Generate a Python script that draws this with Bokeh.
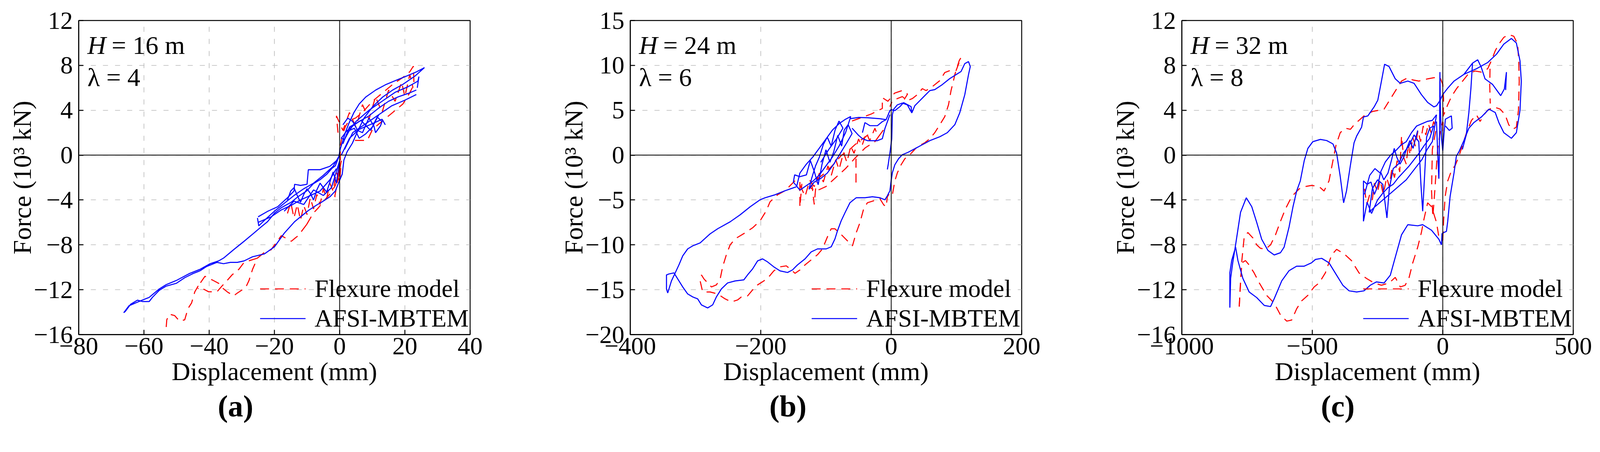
from bokeh.plotting import figure
from bokeh.layouts import row
from bokeh.models import Range1d, FixedTicker, Span, Label, Title, CustomJSTickFormatter
from bokeh.embed import file_html
from bokeh.resources import INLINE

FONT = "Liberation Serif"
BLUE = "#0000ff"
RED = "#ff0000"

# ---------------- panel (a): H = 16 m ----------------
a_x_range = (-80, 40)
a_y_range = (-16, 12)
a_x_ticks = [-80, -60, -40, -20, 0, 20, 40]
a_y_ticks = [-16, -12, -8, -4, 0, 4, 8, 12]

a_flex_r1 = [(-10.1, -6.18), (-12.7, -7.18), (-13.8, -7.43), (-14.8, -7.68), (-17.9, -7.18), (-21.0, -8.43),
             (-23.1, -8.68), (-25.2, -9.18), (-26.7, -10.18), (-27.8, -11.18), (-28.8, -11.8), (-31.4, -12.3),
             (-32.5, -12.55), (-34.5, -12.18), (-36.1, -11.8), (-37.1, -11.43), (-38.7, -11.18), (-41.3, -10.8),
             (-42.8, -11.43), (-43.4, -11.93)]
a_flex_r2 = [(-25.2, -9.18), (-29.3, -9.56), (-30.9, -10.18), (-33.0, -10.68), (-34.5, -11.18), (-36.1, -11.68),
             (-37.6, -12.18), (-40.2, -12.18), (-41.8, -11.93), (-43.4, -11.68), (-44.4, -12.18), (-45.4, -13.18),
             (-46.5, -13.68), (-47.5, -14.68), (-49.1, -14.8), (-50.6, -14.3), (-52.2, -14.18), (-53.0, -14.68),
             (-53.2, -15.43)]
a_flex_r3 = [(-10.1, -6.18), (-8.1, -5.18), (-6.5, -4.69), (-4.4, -3.94), (-2.9, -3.44), (-1.3, -2.69),
             (-0.3, -1.69), (0.2, -0.69), (0.2, 0.81), (0.8, 1.81), (1.8, 2.56), (2.8, 3.06), (4.9, 3.31),
             (7.0, 3.81), (10.1, 4.81), (13.2, 5.56), (16.3, 6.31), (19.4, 6.93), (21.5, 7.43), (22.6, 7.93),
             (22.8, 6.31), (21.5, 5.56), (19.4, 4.56), (16.3, 3.81), (13.2, 3.06), (10.1, 2.31), (8.5, 1.31),
             (6.0, 1.31), (2.8, 1.31)]
a_flex_left = [(-16, -5.2), (-15, -4.2), (-14, -5.6), (-13, -4.4), (-12, -5.8), (-11, -4.5), (-10, -5.3),
               (-9, -3.8), (-8, -4.8), (-7, -3.5), (-6, -4.4), (-5, -3.0), (-4, -3.9), (-3, -2.5), (-2, -3.2),
               (-1, -1.5), (0, -2.4), (0.5, -0.5), (-1.5, -3.7), (-0.2, -3.7)]
a_flex_right = [(-0.5, 2.0), (-1.0, 3.5), (1, 2.2), (3, 3.8), (5, 2.5), (7, 4.5), (9, 3.2), (11, 5.2), (13, 3.8),
                (15, 5.8), (17, 4.8), (19, 6.5), (20, 5.2), (21.5, 7.2), (22.5, 6.0)]

a_afsi_outer = [(26.0, 7.8), (23.1, 7.05), (19.4, 6.31), (16.3, 5.81), (13.2, 5.18), (10.1, 4.31), (7.5, 3.31),
                (5.4, 2.06), (3.9, 1.06), (2.3, 0.31), (1.3, -0.44), (0.8, -1.69), (-0.3, -2.44), (-1.3, -3.19),
                (-2.9, -3.69), (-5.5, -4.19), (-7.0, -4.44), (-9.6, -4.94), (-13.8, -5.93), (-16.9, -6.93),
                (-20.0, -8.18), (-23.1, -8.81), (-26.7, -9.06), (-29.3, -9.43), (-31.4, -9.56), (-33.5, -9.56),
                (-35.6, -9.68), (-37.6, -9.56), (-40.8, -9.93), (-42.8, -10.31), (-44.9, -10.55), (-47.5, -10.93),
                (-50.1, -11.43), (-53.2, -11.68), (-55.3, -12.05), (-57.4, -12.68), (-58.4, -13.05),
                (-60.5, -13.05), (-62.0, -12.93), (-64.1, -13.3), (-65.7, -13.93), (-66.2, -14.05),
                (-64.6, -13.43), (-62.6, -13.18), (-60.5, -12.93), (-58.4, -12.68), (-55.3, -11.93),
                (-53.2, -11.55), (-50.1, -11.18), (-46.0, -10.55), (-42.8, -10.18), (-39.7, -9.68),
                (-37.1, -9.43), (-35.6, -9.18), (-32.5, -8.43), (-29.3, -7.68), (-26.2, -6.93), (-24.2, -6.43),
                (-22.1, -5.93), (-20.0, -5.18), (-17.9, -4.69), (-14.8, -4.19), (-12.7, -3.69), (-10.1, -3.19),
                (-8.1, -2.56), (-6.0, -2.19), (-3.9, -1.69), (-2.4, -1.19), (-1.3, -0.94), (-0.3, -0.19),
                (0.2, 0.56), (1.0, 1.31), (1.8, 2.06), (2.8, 2.81), (4.4, 3.81), (6.0, 4.56), (8.0, 5.18),
                (11.1, 5.81), (14.3, 6.31), (17.4, 6.68), (20.5, 7.05), (23.6, 7.43), (26.0, 7.8)]
a_afsi_l1 = [(1.0, 1.0), (3, 2.5), (6, 3.0), (9, 3.5), (12, 4.2), (15, 4.8), (18, 5.2), (21, 5.5), (23.5, 5.8)]
a_afsi_l2 = [(1.5, 0.5), (4, 2.0), (8, 2.8), (12, 3.6), (16, 4.4), (20, 4.9), (23.5, 5.4)]
a_afsi_l3 = [(2, 1.8), (5, 3.0), (9, 4.0), (13, 4.8), (17, 5.6), (21, 6.1), (24, 6.6), (24.3, 7.0), (23.8, 6.0)]
a_afsi_l4 = [(0.5, 0.0), (3, 1.5), (6, 2.3), (10, 2.8), (13, 3.2), (14, 2.7)]
a_afsi_core = [(1, 2.7), (2.5, 3.3), (4, 3.0), (5.5, 2.2), (7, 2.0), (8.5, 3.0), (9, 3.3), (10.5, 2.6),
               (11, 2.0), (12.5, 2.6), (13, 3.0), (11.5, 3.4), (10, 2.5), (8, 1.9), (6, 1.5), (4.5, 2.4),
               (3, 2.2), (1.5, 1.4), (0.5, 1.5), (2, 2.1), (4, 2.6), (6.5, 3.1), (9.5, 2.2), (12, 3.6)]
a_afsi_n1 = [(-25.2, -5.6), (-24.8, -6.3), (-23, -5.8), (-20, -5.0), (-17, -4.3), (-14, -3.6), (-11, -3.0),
             (-8, -2.5), (-5, -1.8), (-2, -1.0), (0, 0.0)]
a_afsi_n2 = [(-25, -5.5), (-22, -5.0), (-19, -4.6), (-16, -3.8), (-14, -3.2), (-13.8, -2.6), (-12, -2.7),
             (-10, -2.6), (-9.6, -1.3), (-6, -1.3), (-3, -1.0), (-1, -0.5)]
a_afsi_n3 = [(-25, -6.0), (-21, -5.5), (-18, -4.9), (-15, -4.5), (-12, -4.0), (-9, -3.6), (-6, -3.2),
             (-3, -2.2), (-1, -1.2)]
a_afsi_left = [(-16, -4.0), (-15, -3.2), (-14, -2.9), (-13, -3.6), (-12, -4.2), (-11, -3.5), (-10, -3.0),
               (-9, -3.4), (-8, -4.0), (-7, -3.1), (-6, -2.5), (-5, -2.9), (-4, -3.3), (-3, -2.4), (-2, -1.5),
               (-1.5, -2.0), (-1, -2.5), (0, -0.5), (-2.5, -2.9), (-5, -3.6), (-8, -3.1), (-11, -4.4),
               (-14, -4.1), (-17, -5.0)]

# ---------------- panel (b): H = 24 m ----------------
b_x_range = (-400, 200)
b_y_range = (-20, 15)
b_x_ticks = [-400, -200, 0, 200]
b_y_ticks = [-20, -15, -10, -5, 0, 5, 10, 15]

b_flex_main = [(-147.5, -2.86), (-162.8, -3.97), (-174.2, -4.42), (-185.7, -5.2), (-191.5, -6.2), (-201, -7.32),
               (-212.5, -8.1), (-224, -8.66), (-239.3, -9.33), (-246.9, -10.0), (-252.7, -11.1),
               (-258.4, -12.45), (-262.2, -13.79), (-268, -14.46), (-275.6, -14.69), (-281.4, -14.24),
               (-287.1, -13.79), (-290.9, -13.35), (-292.9, -14.02), (-289, -15.25), (-277.6, -15.25),
               (-266.1, -15.47), (-254.6, -16.02), (-245, -16.36), (-235.5, -16.14), (-229.7, -15.8),
               (-220.2, -15.69), (-212.5, -15.02), (-204.8, -14.46), (-195.3, -14.02), (-187.6, -13.57),
               (-180, -12.9), (-170.4, -12.45), (-160.8, -12.34), (-153.2, -12.79), (-147.5, -13.17),
               (-139.8, -12.79), (-132.1, -12.23), (-122.6, -11.67), (-113, -11.1), (-105.4, -10.45),
               (-97.7, -9.1), (-92, -8.21), (-86.2, -8.21), (-74.7, -8.99), (-67.1, -9.55), (-59.4, -10.11),
               (-53.7, -8.66), (-48, -7.54), (-42.2, -5.98), (-36.5, -5.31), (-26.9, -5.09), (-17.3, -4.86),
               (-11.6, -5.53), (-7.8, -5.76), (-5.9, -4.64), (-2, -4.2), (1.8, -4.42), (5.6, -2.86),
               (9.5, -1.96), (15.2, -1.07), (20.9, -0.4), (28.6, 0.05), (40, 0.94), (51.5, 1.38), (59.2, 1.83),
               (66.8, 2.5), (74.5, 3.39), (82.1, 4.29), (87.9, 5.63), (91.7, 7.19), (95.5, 8.3), (97.5, 8.97),
               (101.3, 9.87), (104.3, 10.54), (107, 10.87), (99.4, 9.42), (89.8, 9.42), (82.1, 9.2),
               (74.5, 8.3), (63, 7.63), (53.4, 7.19), (47.7, 7.41), (40, 6.74), (32.4, 6.3), (24.7, 6.07),
               (17.1, 6.52), (9.5, 6.3), (1.8, 6.07), (-2, 5.4)]
b_flex_cluster = [(-140, -3.3), (-132, -4.6), (-125, -2.8), (-118, -3.5), (-110, -2.0), (-104, -3.0),
                  (-97, -1.2), (-92, -2.3), (-85, -0.5), (-80, -1.6), (-73, 0.3), (-68, -0.8), (-62, 1.0),
                  (-57, 0.2), (-50, 1.8), (-45, 1.0), (-38, 2.5), (-33, 1.6), (-25, 3.0), (-20, 2.0), (-12, 2.8),
                  (-25, 1.5), (-40, 0.8), (-55, -0.3), (-70, -1.5), (-85, -2.5), (-100, -3.5), (-115, -4.0),
                  (-125, -3.6), (-112, -2.6), (-100, -1.9), (-88, -1.0), (-76, 0.0), (-64, 0.6), (-52, 1.4),
                  (-40, 2.0), (-30, 2.6)]
b_flex_dip1 = [(-140, -3.0), (-140, -5.8), (-137, -3.2)]
b_flex_dip2 = [(-122, -3.0), (-118, -5.5), (-115, -3.0)]
b_flex_dip3 = [(-54, -0.4), (-54, -3.3)]
b_flex_top = [(-60, 3.8), (-45, 4.2), (-30, 4.6), (-13.6, 5.2), (-13.6, 6.4), (-5, 6.0), (5, 6.9), (17, 7.2),
              (25, 6.8), (20, 6.2)]

b_afsi_main = [(-145.5, -3.53), (-162.8, -3.97), (-178.1, -4.42), (-193.4, -4.75), (-201, -4.98),
               (-216.3, -5.76), (-231.6, -6.65), (-246.9, -7.43), (-266.1, -8.21), (-277.6, -8.77),
               (-292.9, -9.78), (-304.3, -10.11), (-312, -10.45), (-319.6, -11.23), (-325.4, -12.23),
               (-331.1, -13.12), (-336.9, -14.02), (-342.6, -15.36), (-344.5, -14.91), (-344.5, -13.35),
               (-340.7, -13.24), (-333, -13.12), (-327.3, -13.79), (-319.6, -14.69), (-312, -15.47),
               (-304.3, -15.8), (-296.7, -16.02), (-290.9, -16.69), (-281.4, -17.03), (-273.7, -16.69),
               (-268, -15.8), (-260.3, -14.91), (-250.8, -14.24), (-239.3, -14.02), (-225.9, -13.9),
               (-220.2, -13.35), (-212.5, -12.68), (-204.8, -11.78), (-197.2, -11.56), (-189.5, -11.9),
               (-180, -12.45), (-170.4, -12.9), (-158.9, -13.08), (-151.3, -12.79), (-143.6, -12.23),
               (-132.1, -11.56), (-122.6, -10.78), (-113, -10.45), (-99.6, -10.45), (-92, -10.22),
               (-86.2, -9.33), (-82.4, -8.44), (-76.7, -7.32), (-70.9, -6.43), (-63.3, -5.31), (-53.7, -4.75),
               (-40.3, -4.75), (-28.8, -4.64), (-17.3, -4.75), (-9.7, -4.98), (-5.9, -4.53), (-2.0, -3.97),
               (-0.1, -2.86), (1.8, -1.96), (5.6, -1.07), (11.3, -0.4), (17.1, 0.05), (24.7, 0.27),
               (36.2, 0.71), (47.7, 1.16), (59.2, 1.61), (74.5, 2.05), (86, 2.5), (97.5, 3.39), (105.1, 4.73),
               (112.8, 6.74), (118.5, 8.97), (121.2, 9.87), (118.5, 10.42), (112.8, 10.2), (107, 9.31),
               (99.4, 8.97), (89.8, 8.53), (78.3, 7.86), (66.8, 7.3), (59.2, 7.19), (51.5, 6.63), (43.9, 6.07),
               (36.2, 5.51), (31.6, 4.7), (30.5, 5.4), (24.7, 5.63), (19, 5.85), (13.3, 5.4), (5.6, 4.96),
               (-0.1, 5.07)]
b_afsi_cluster = [(-145, -3.5), (-140, -2.0), (-130, -1.0), (-120, -0.2), (-110, 0.8), (-100, 1.8), (-90, 2.8),
                  (-80, 3.5), (-70, 4.0), (-62, 4.3), (-70, 2.5), (-80, 1.0), (-90, -0.2), (-100, -1.2),
                  (-110, -2.2), (-120, -2.9), (-130, -3.4), (-140, -3.9), (-150, -3.0), (-148, -2.2),
                  (-140, -2.4), (-130, -2.2), (-124, -0.6), (-118, -1.8), (-112, -3.3), (-106, -1.0),
                  (-100, 0.6), (-94, -0.8), (-88, 0.4), (-82, 2.2), (-76, 1.0), (-72, 2.8), (-66, 3.4),
                  (-60, 2.4), (-68, 1.4), (-78, 0.2), (-88, -1.0), (-98, -2.0), (-108, -2.6), (-118, -3.0),
                  (-126, -3.8), (-122, -2.6), (-116, -1.2), (-110, -0.2), (-104, 1.2), (-98, 2.0), (-92, 1.0),
                  (-86, 2.8), (-80, 3.8), (-74, 3.0), (-84, 1.8), (-96, 0.6), (-108, -0.8)]
b_afsi_zero = [(-5.9, -1.6), (-4.5, -1.0), (-1.5, 0.5), (0.8, 1.8), (1.8, 4.5), (3.7, 5.1), (9.4, 5.6),
               (17.1, 5.8), (24.7, 5.6), (31.6, 4.7)]
b_afsi_up1 = [(-63.3, 4.06), (-50, 4.2), (-36.5, 4.17), (-17.3, 4.06), (-7.8, 3.95), (-2.0, 4.96), (-0.1, 5.07)]
b_afsi_up2 = [(-44.1, 2.5), (-40.3, 3.62), (-32.7, 3.28), (-21.2, 3.28), (-13.6, 3.73), (-7.8, 3.95)]
b_afsi_up3 = [(-60, 3.0), (-50, 2.2), (-44.1, 1.83), (-36.5, 1.61), (-21.2, 1.61), (-13.6, 1.83), (-9.7, 2.95),
              (-2.0, 4.51)]

# ---------------- panel (c): H = 32 m ----------------
c_x_range = (-1000, 500)
c_y_range = (-16, 12)
c_x_ticks = [-1000, -500, 0, 500]
c_y_ticks = [-16, -12, -8, -4, 0, 4, 8, 12]

c_flex_upper = [(-780, -13.5), (-770, -9.4), (-761, -7.3), (-747, -6.9), (-727, -7.4), (-713, -8.0),
                (-699, -8.3), (-680, -8.4), (-660, -8.0), (-641, -7.1), (-622, -5.9), (-603, -4.8),
                (-579, -3.7), (-550, -3.0), (-526, -2.8), (-503, -2.7), (-474, -2.8), (-455, -3.2),
                (-436, -2.3), (-421, -0.5), (-409, 0.9), (-393, 2.0), (-373, 2.4), (-354, 2.3), (-340, 2.7),
                (-321, 3.1), (-297, 3.6), (-268, 3.9), (-244, 4.0), (-225, 4.1), (-201, 5.0), (-177, 5.9),
                (-158, 6.6), (-134, 6.9), (-115, 6.7), (-91, 6.6), (-58, 6.8), (-34, 6.9), (-10, 6.9),
                (0, 6.3), (3, 5.0), (2, 3.5), (0, 2.0)]
c_flex_lower = [(-780, -13.5), (-775, -11.2), (-770, -9.6), (-756, -9.4), (-742, -9.8), (-723, -10.5),
                (-703, -11.4), (-675, -12.5), (-646, -13.2), (-622, -14.25), (-598, -14.8), (-579, -14.7),
                (-560, -13.7), (-541, -13.0), (-517, -12.5), (-493, -11.75), (-474, -11.4), (-450, -10.5),
                (-426, -8.9), (-407, -8.4), (-378, -8.8), (-350, -9.4), (-321, -10.5), (-292, -11.0),
                (-263, -11.4), (-235, -11.6), (-206, -11.4), (-182, -10.9), (-163, -11.75), (-144, -11.6),
                (-129, -10.9), (-115, -9.6), (-96, -8.2), (-82, -6.9), (-72, -5.7), (-58, -4.25), (-43, -4.6),
                (-24, -6.0), (-15, -7.3), (-5, -7.6), (0, -7.6)]
c_flex_right = [(0, -7.6), (3, -5.9), (9, -3.7), (19, -2.3), (33, -1.4), (48, -0.9), (62, -0.1), (76, 0.9),
                (91, 2.0), (110, 3.1), (129, 3.6), (143, 3.0), (158, 3.6), (172, 4.0), (196, 4.3), (220, 4.1),
                (239, 3.6), (253, 2.7), (268, 2.3), (282, 2.5), (290, 4.0), (293, 6.6), (291, 8.4), (287, 9.9),
                (272, 10.6), (253, 10.75), (234, 10.5), (215, 9.9), (201, 9.3), (186, 8.4), (172, 7.7),
                (148, 7.4), (124, 7.5), (100, 7.3), (76, 6.6), (52, 5.9), (33, 5.2), (19, 4.5), (4, 3.6)]
c_flex_drop = [(181, 7.7), (180, 6.2), (182, 4.6)]
c_flex_cluster = [(-300, -3.0), (-292, -4.3), (-287, -4.1), (-280, -3.5), (-270, -4.0), (-262, -2.5),
                  (-250, -3.3), (-240, -2.2), (-228, -3.5), (-215, -2.0), (-205, -2.8), (-195, -1.2),
                  (-185, -2.0), (-175, -0.5), (-165, -1.5), (-158, 1.7), (-150, -0.2), (-140, -0.8),
                  (-132, 1.0), (-125, 0.0), (-115, 1.6), (-105, 0.8), (-95, 2.2), (-85, 1.2), (-75, 2.6),
                  (-65, 1.8), (-55, 2.8), (-45, 2.0), (-35, 3.0), (-25, 2.4), (-40, 0.5), (-43, -3.2),
                  (-38, -5.5), (-30, -3.0), (-20, 0.5), (-10, 2.0), (0, 3.0)]

c_afsi_main = [(-5, -8.0), (-15, -7.5), (-43, -6.7), (-77, -6.2), (-96, -6.3), (-134, -6.2), (-158, -7.1),
               (-182, -9.1), (-201, -10.7), (-225, -11.4), (-254, -11.3), (-278, -11.6), (-302, -12.1),
               (-330, -12.2), (-359, -12.1), (-383, -11.6), (-407, -10.7), (-436, -9.6), (-464, -9.2),
               (-488, -9.3), (-503, -9.6), (-531, -9.9), (-560, -9.9), (-589, -10.3), (-617, -11.2),
               (-646, -12.8), (-660, -13.5), (-684, -13.4), (-713, -12.7), (-742, -12.2), (-766, -11.0),
               (-785, -9.4), (-794, -8.2), (-809, -9.4), (-816, -10.5), (-816, -13.6), (-813, -11.0),
               (-805, -9.6), (-794, -8.0), (-775, -5.1), (-753, -3.8), (-732, -4.6), (-713, -6.0),
               (-694, -7.5), (-670, -8.5), (-646, -8.9), (-622, -8.7), (-608, -8.2), (-589, -6.4),
               (-574, -4.6), (-560, -3.2), (-546, -2.3), (-531, -0.5), (-517, 0.6), (-498, 1.2), (-469, 1.4),
               (-445, 1.3), (-421, 1.0), (-407, 0.2), (-393, -1.9), (-380, -4.25), (-369, -3.2), (-354, -0.9),
               (-340, 1.1), (-330, 1.7), (-311, 2.5), (-304, 3.4), (-287, 3.5), (-263, 4.3), (-249, 4.9),
               (-235, 6.6), (-223, 8.1), (-206, 7.9), (-182, 6.8), (-163, 6.4), (-134, 6.6), (-110, 6.4),
               (-82, 5.4), (-58, 4.7), (-34, 4.3), (-24, 4.4), (-10, 4.9), (0, 5.4), (20, 6.0), (43, 6.6),
               (81, 7.2), (114, 8.2), (134, 8.5), (148, 7.8), (162, 6.8), (191, 6.3), (222, 5.3), (236, 5.9),
               (244, 7.4), (241, 5.8)]
c_afsi_right = [(-5, -8.0), (-3, -7.0), (4, -6.9), (14, -6.8), (19, -5.9), (28, -3.7), (43, -1.6), (52, -0.1),
                (62, 0.3), (81, 1.3), (100, 2.4), (119, 2.9), (148, 3.4), (177, 4.1), (201, 3.8), (215, 2.9),
                (234, 2.0), (263, 1.5), (282, 2.0), (296, 4.0), (301, 6.6), (296, 8.4), (282, 10.0),
                (263, 10.4), (234, 9.9), (206, 9.0), (172, 8.25), (129, 7.7), (81, 7.2)]
c_afsi_v = [(114, 8.2), (108, 6.0), (100, 3.8), (90, 1.8), (75, 0.5)]
c_afsi_spike = [(-24, 3.0), (-20, 0.5), (-15, -2.1), (-14, -1.0), (-12, 3.0), (-11, 7.4), (-9, 4.0), (-5, 1.5),
                (0, 0.4), (5, 2.0), (10, 3.2), (33, 3.5), (36, 2.4), (25, 2.2), (10, 2.6)]
c_afsi_cluster = [(-300, -3.5), (-280, -1.8), (-260, -1.2), (-240, -1.6), (-220, -0.6), (-200, 0.0),
                  (-180, 0.4), (-160, 0.9), (-140, 1.2), (-120, 2.0), (-100, 2.6), (-80, 2.8), (-60, 3.0),
                  (-40, 3.1), (-24, 3.6), (-40, 1.2), (-60, 0.5), (-80, -0.4), (-100, -1.0), (-120, -1.6),
                  (-140, -2.2), (-160, -2.6), (-180, -3.0), (-200, -3.4), (-220, -3.8), (-240, -4.2),
                  (-260, -4.6), (-282, -5.1), (-270, -3.0), (-250, -2.2), (-230, -2.6), (-214, -5.6),
                  (-205, -3.0), (-190, -1.2), (-170, -0.8), (-150, 0.2), (-130, 0.8), (-110, 1.8), (-92, 1.2),
                  (-84, -2.5), (-77, -5.0), (-70, -2.0), (-62, 1.6), (-50, 2.4), (-35, 2.6), (-50, 1.5),
                  (-70, 0.9), (-90, 0.2), (-110, -0.4), (-130, -1.0), (-150, -1.5), (-170, -2.0), (-190, -2.6),
                  (-210, -2.9), (-230, -3.4), (-250, -4.0), (-273, -5.2), (-290, -4.2), (-304, -5.9),
                  (-304, -2.3), (-290, -2.6), (-275, -2.4), (-262, -3.5), (-250, -2.8), (-238, -1.5),
                  (-226, -2.2), (-210, -1.6), (-196, -0.4), (-186, 0.6), (-176, -0.2), (-164, -0.8),
                  (-150, -0.2), (-138, 0.6), (-126, 1.3), (-114, 0.6), (-104, 1.5), (-96, 2.2)]

LEGEND_FLEX = "Flexure model"
LEGEND_AFSI = "AFSI-MBTEM"
X_LABEL = "Displacement (mm)"
Y_LABEL = "Force (10\u00b3 kN)"

MINUS_FMT = "return (tick < 0 ? '\u2212' : '') + Math.abs(tick);"

FIG_W = 1360
FIG_H = 1124
FRAME_W = 1002
FRAME_H = 804
BORDER_TOP = 52


def xs_ys(segs):
    return [[p[0] for p in s] for s in segs], [[p[1] for p in s] for s in segs]


def make_panel(xr, yr, xt, yt, flex_segs, afsi_segs, h_text, lam_text, caption, b_left):
    b_right = FIG_W - b_left - FRAME_W
    b_bottom = FIG_H - BORDER_TOP - FRAME_H
    p = figure(width=FIG_W, height=FIG_H, x_range=Range1d(*xr), y_range=Range1d(*yr),
               output_backend="svg", toolbar_location=None,
               min_border_left=b_left, min_border_right=b_right, min_border_top=BORDER_TOP,
               min_border_bottom=b_bottom,
               background_fill_color="white", border_fill_color="white")
    p.outline_line_color = "black"
    p.outline_line_width = 2.4
    p.outline_line_alpha = 1.0

    p.xaxis.ticker = FixedTicker(ticks=xt)
    p.yaxis.ticker = FixedTicker(ticks=yt)
    p.xgrid.ticker = FixedTicker(ticks=xt)
    p.ygrid.ticker = FixedTicker(ticks=yt)
    for ax in (p.xaxis, p.yaxis):
        ax.formatter = CustomJSTickFormatter(code=MINUS_FMT)
        ax.axis_line_width = 2.4
        ax.axis_line_color = "black"
        ax.major_tick_in = 12
        ax.major_tick_out = 0
        ax.major_tick_line_width = 2.4
        ax.major_tick_line_color = "black"
        ax.minor_tick_line_color = None
        ax.major_label_text_font = FONT
        ax.major_label_text_font_size = "64px"
        ax.major_label_text_color = "black"
        ax.axis_label_text_font = FONT
        ax.axis_label_text_font_size = "66px"
        ax.axis_label_text_font_style = "normal"
        ax.axis_label_text_color = "black"
    p.xaxis.axis_label = X_LABEL
    p.yaxis.axis_label = Y_LABEL
    p.xaxis.major_label_standoff = 8
    p.xaxis.axis_label_standoff = 4
    p.yaxis.major_label_standoff = 15
    p.yaxis.axis_label_standoff = -10

    for g in (p.xgrid, p.ygrid):
        g.grid_line_color = "#b8b8b8"
        g.grid_line_width = 1.6
        g.grid_line_dash = "13 18"

    p.add_layout(Span(location=0, dimension="height", line_color="black", line_width=2))
    p.add_layout(Span(location=0, dimension="width", line_color="black", line_width=2))

    fx, fy = xs_ys(flex_segs)
    p.multi_line(fx, fy, line_color=RED, line_width=2.7, line_dash="23 15", legend_label=LEGEND_FLEX)
    bx, by = xs_ys(afsi_segs)
    p.multi_line(bx, by, line_color=BLUE, line_width=2.7, legend_label=LEGEND_AFSI)

    lg = p.legend[0]
    lg.location = "bottom_right"
    lg.background_fill_alpha = 0
    lg.border_line_alpha = 0
    lg.margin = 0
    lg.padding = 3
    lg.spacing = 0
    lg.glyph_width = 117
    lg.glyph_height = 76
    lg.label_height = 76
    lg.label_standoff = 23
    lg.label_text_font = FONT
    lg.label_text_font_size = "64px"
    lg.label_text_color = "black"

    x0, x1 = xr
    y0, y1 = yr
    ax_ = x0 + (23 / 1032) * (x1 - x0)
    hy = y1 - (65 / 828) * (y1 - y0)
    ly = y1 - (149 / 828) * (y1 - y0)
    common = dict(text_font=FONT, text_font_size="66px", text_color="black", text_baseline="alphabetic",
                  text_align="left")
    p.add_layout(Label(x=ax_, y=hy, text="H", text_font_style="italic", **common))
    p.add_layout(Label(x=ax_, y=hy, x_offset=62, text="= " + h_text, **common))
    p.add_layout(Label(x=ax_, y=ly, text=lam_text, **common))

    p.add_layout(Title(text=caption, align="left", offset=356, text_font=FONT, text_font_size="78px",
                       text_font_style="bold", text_color="black", standoff=8), "below")
    return p


pa = make_panel(a_x_range, a_y_range, a_x_ticks, a_y_ticks,
                [a_flex_r1, a_flex_r2, a_flex_r3, a_flex_left, a_flex_right],
                [a_afsi_outer, a_afsi_l1, a_afsi_l2, a_afsi_l3, a_afsi_l4, a_afsi_core,
                 a_afsi_n1, a_afsi_n2, a_afsi_n3, a_afsi_left],
                "16 m", "\u03bb = 4", "(a)", 201)
pb = make_panel(b_x_range, b_y_range, b_x_ticks, b_y_ticks,
                [b_flex_main, b_flex_cluster, b_flex_dip1, b_flex_dip2, b_flex_dip3, b_flex_top],
                [b_afsi_main, b_afsi_cluster, b_afsi_zero, b_afsi_up1, b_afsi_up2, b_afsi_up3],
                "24 m", "\u03bb = 6", "(b)", 253)
pc = make_panel(c_x_range, c_y_range, c_x_ticks, c_y_ticks,
                [c_flex_upper, c_flex_lower, c_flex_right, c_flex_drop, c_flex_cluster],
                [c_afsi_main, c_afsi_right, c_afsi_v, c_afsi_spike, c_afsi_cluster],
                "32 m", "\u03bb = 8", "(c)", 305)

layout = row(pa, pb, pc)
open("out.html", "w").write(file_html(layout, INLINE))
